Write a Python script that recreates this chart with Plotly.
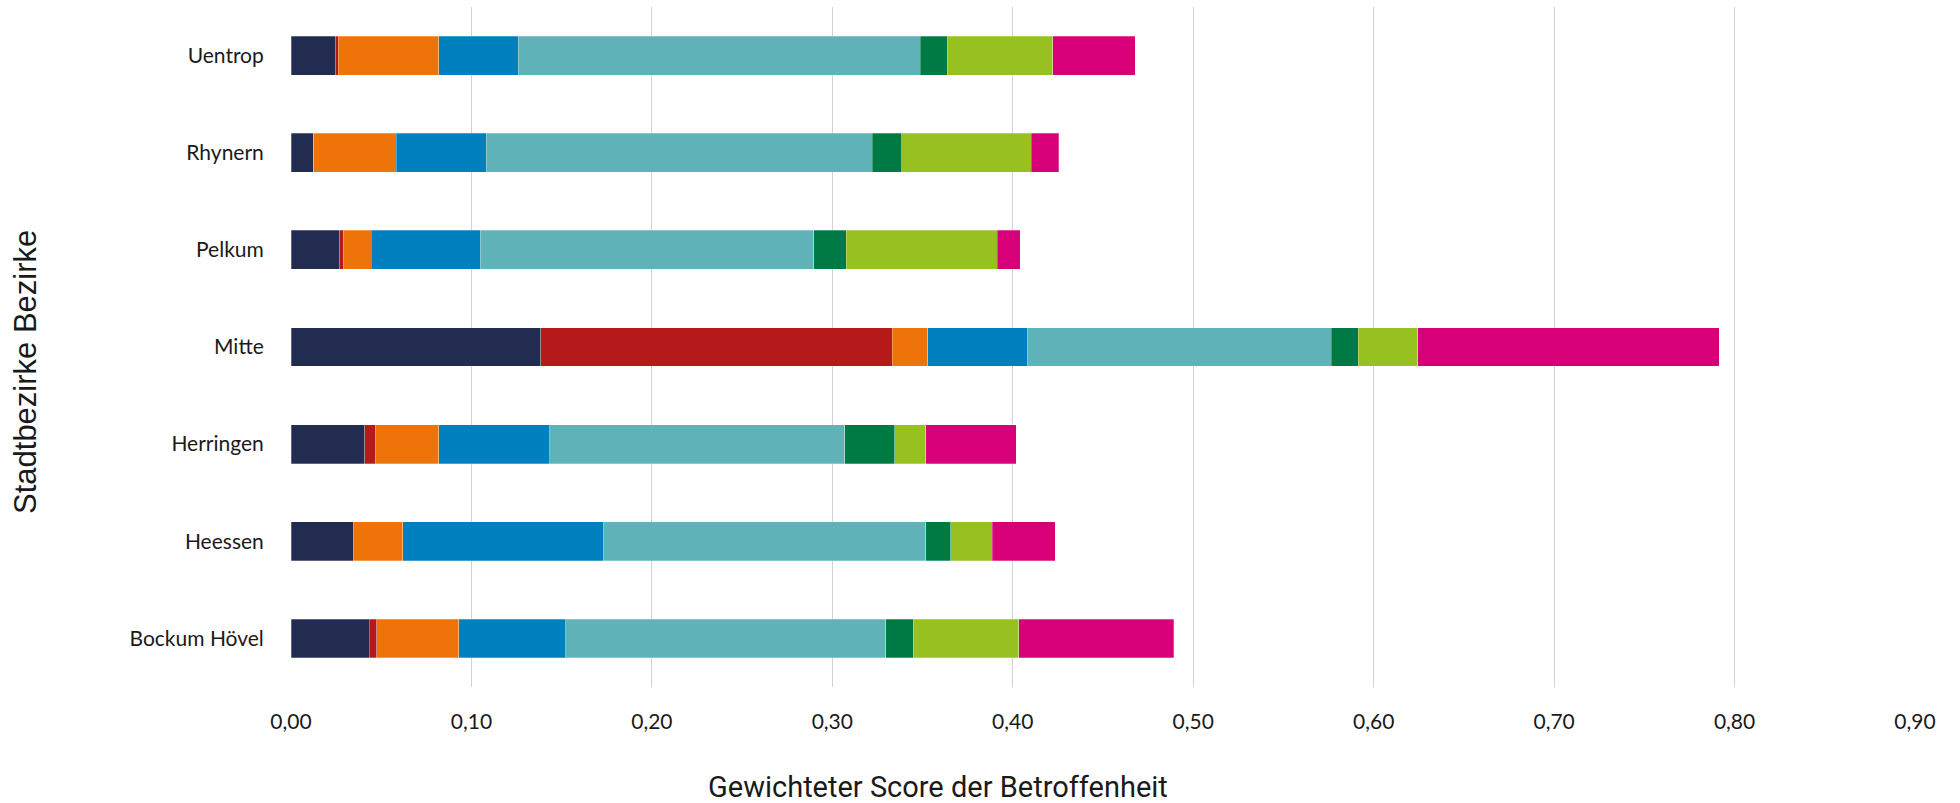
import plotly.graph_objects as go

# Stadtbezirke, listed bottom to top
bezirke = ["Bockum Hövel", "Heessen", "Herringen", "Mitte", "Pelkum", "Rhynern", "Uentrop"]

# Component scores per Stadtbezirk (same order as bezirke)
komp_1 = [0.0435, 0.0346, 0.0410, 0.1385, 0.0269, 0.0127, 0.0248]
komp_2 = [0.0039, 0.0000, 0.0056, 0.1947, 0.0021, 0.0000, 0.0014]
komp_3 = [0.0455, 0.0272, 0.0354, 0.0198, 0.0155, 0.0456, 0.0558]
komp_4 = [0.0594, 0.1113, 0.0614, 0.0549, 0.0604, 0.0498, 0.0438]
komp_5 = [0.1773, 0.1788, 0.1636, 0.1686, 0.1848, 0.2141, 0.2230]
komp_6 = [0.0153, 0.0137, 0.0276, 0.0150, 0.0181, 0.0163, 0.0149]
komp_7 = [0.0585, 0.0229, 0.0173, 0.0329, 0.0837, 0.0717, 0.0585]
komp_8 = [0.0858, 0.0351, 0.0500, 0.1671, 0.0127, 0.0153, 0.0457]

x_ticks = [0.0, 0.1, 0.2, 0.3, 0.4, 0.5, 0.6, 0.7, 0.8, 0.9]

serien = [komp_1, komp_2, komp_3, komp_4, komp_5, komp_6, komp_7, komp_8]
farben = ["#222B50", "#B5191A", "#EE7309", "#0080BF",
          "#5FB3B8", "#007A45", "#97C121", "#D70078"]

fig = go.Figure()
for i, (werte, farbe) in enumerate(zip(serien, farben)):
    fig.add_trace(go.Bar(
        x=werte,
        y=bezirke,
        orientation="h",
        name=f"Komponente {i + 1}",
        marker=dict(color=farbe, line=dict(color="rgba(255,255,255,0.45)", width=0.6)),
        showlegend=False,
    ))

W, H = 1960, 803
ml, mr, mt, mb = 291, 45, 7, 116
pw, ph = W - ml - mr, H - mt - mb


def px_to_paper(px, py):
    """Convert page pixel coordinates to paper coordinates of the plot area."""
    return (px - ml) / pw, (H - mb - py) / ph


tx, ty = px_to_paper(938, 787)
yx, yy = px_to_paper(25, 372)

fig.update_layout(
    width=W, height=H,
    barmode="stack",
    bargap=0.6,
    separators=",.",
    plot_bgcolor="white",
    paper_bgcolor="white",
    margin=dict(l=ml, r=mr, t=mt, b=mb, autoexpand=False),
    font=dict(family="Lato, Open Sans, sans-serif", size=21, color="#1a1a1a"),
    xaxis=dict(
        range=[0, 0.9],
        tickvals=x_ticks,
        tickformat=".2f",
        showgrid=True,
        gridcolor="#CFD1DB",
        gridwidth=1.3,
        zeroline=False,
        showline=False,
        ticks="outside",
        ticklen=16,
        tickcolor="rgba(0,0,0,0)",
        tickfont=dict(family="Lato, Open Sans, sans-serif", size=21, color="#1a1a1a"),
    ),
    yaxis=dict(
        categoryorder="array",
        categoryarray=bezirke,
        showgrid=False,
        zeroline=False,
        showline=False,
        ticks="outside",
        ticklen=22,
        tickcolor="rgba(0,0,0,0)",
        tickfont=dict(family="Lato, Open Sans, sans-serif", size=21, color="#1a1a1a"),
    ),
    annotations=[
        dict(
            text="Gewichteter Score der Betroffenheit",
            x=tx, y=ty,
            xref="paper", yref="paper",
            xanchor="center", yanchor="middle",
            showarrow=False,
            font=dict(family="Roboto, sans-serif", size=29, color="#1a1a1a"),
        ),
        dict(
            text="Stadtbezirke Bezirke",
            x=yx, y=yy,
            xref="paper", yref="paper",
            xanchor="center", yanchor="middle",
            textangle=-90,
            showarrow=False,
            font=dict(family="Liberation Sans, Arial, sans-serif", size=31, color="#1a1a1a"),
        ),
    ],
)

fig.write_html("out.html")
